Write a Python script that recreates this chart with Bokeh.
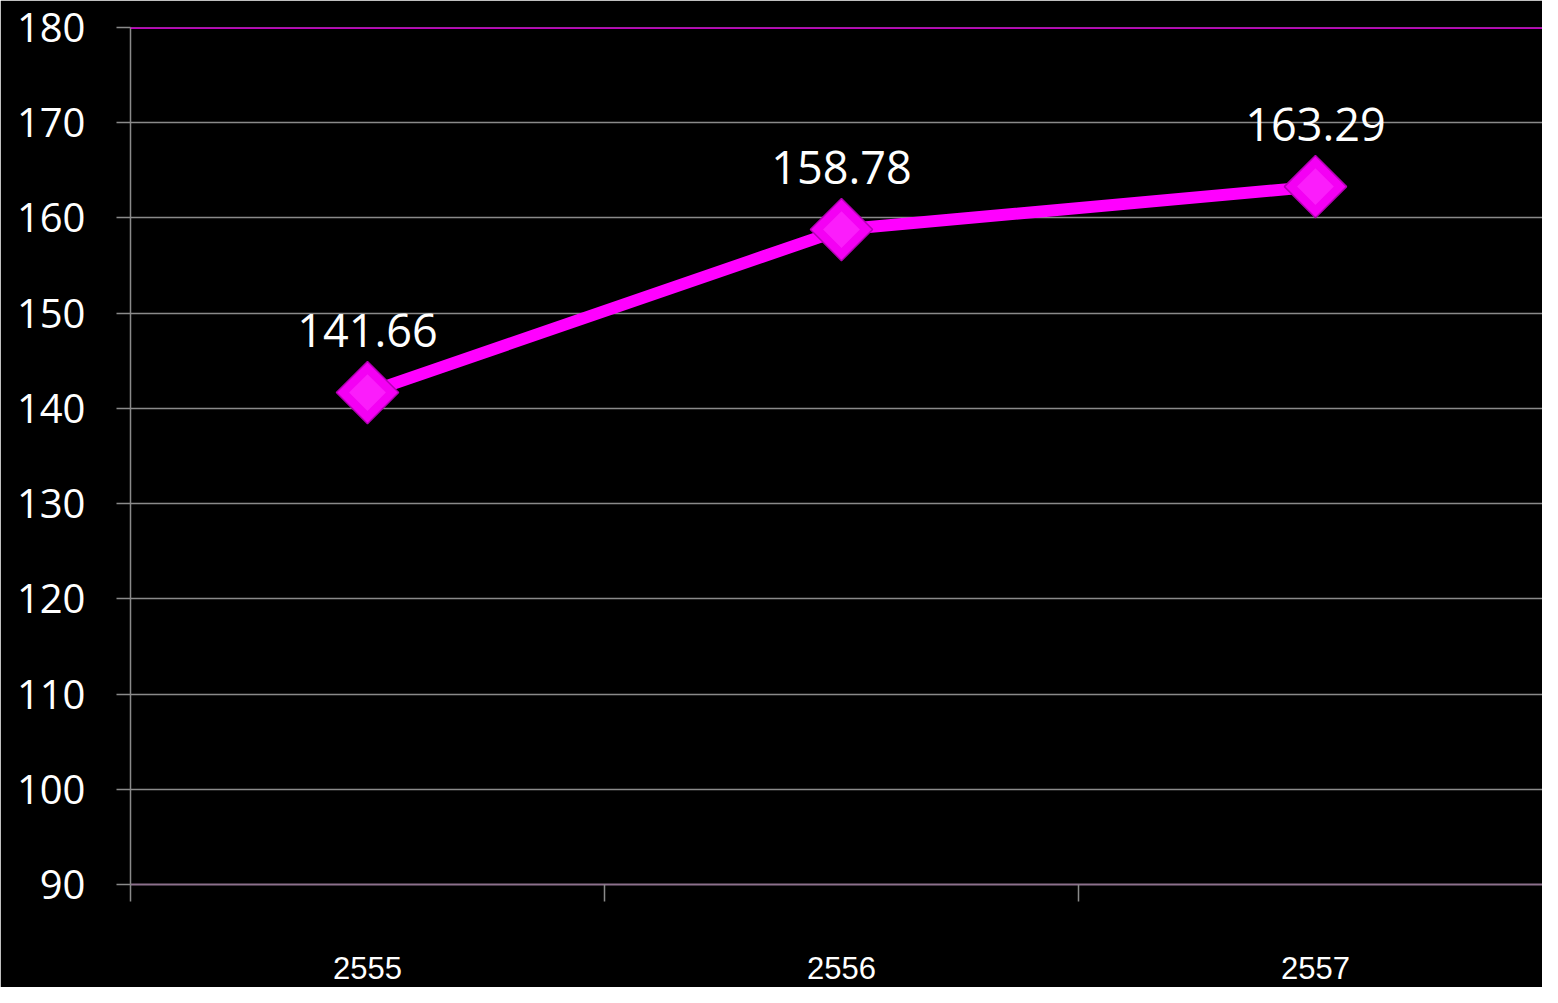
import math
from bokeh.plotting import figure
from bokeh.models import Range1d, FixedTicker, ColumnDataSource, Span
from bokeh.embed import file_html
from bokeh.resources import INLINE
from bokeh.core.properties import value

# ---- data ----
years = ["2555", "2556", "2557"]
values = [141.66, 158.78, 163.29]
value_labels = ["141.66", "158.78", "163.29"]
y_ticks = [90, 100, 110, 120, 130, 140, 150, 160, 170, 180]

# category centres on a numeric axis (category i spans [i, i+1])
xs = [i + 0.5 for i in range(len(years))]
src = ColumnDataSource(dict(x=xs, y=values, lab=value_labels))

p = figure(
    width=1542, height=987,
    output_backend="svg", toolbar_location=None,
    x_range=Range1d(0, 2.979), y_range=Range1d(90, 180),
    min_border_left=130, min_border_right=0,
    min_border_top=27, min_border_bottom=103,
)
p.background_fill_color = "black"
p.border_fill_color = "black"
p.outline_line_color = None

# grid (top edge is drawn in magenta below)
p.xgrid.visible = False
p.ygrid.ticker = FixedTicker(ticks=y_ticks[:-1])
p.ygrid.grid_line_color = "#8a8a8a"
p.ygrid.grid_line_width = 1.3

# y axis
p.yaxis.ticker = FixedTicker(ticks=y_ticks)
p.yaxis.axis_line_color = "#8a8a8a"
p.yaxis.axis_line_width = 1.5
p.yaxis.major_tick_line_color = "#8a8a8a"
p.yaxis.major_tick_line_width = 1.5
p.yaxis.major_tick_out = 14
p.yaxis.major_tick_in = 0
p.yaxis.minor_tick_line_color = None
p.yaxis.major_label_standoff = 31
p.yaxis.major_label_text_color = "white"
p.yaxis.major_label_text_font = "Open Sans"
p.yaxis.major_label_text_font_size = "40px"

# x axis: labels at centres, ticks at category boundaries (minor ticks)
p.xaxis.ticker = FixedTicker(ticks=xs, minor_ticks=[0, 1, 2, 3])
p.xaxis.major_label_overrides = {x: y for x, y in zip(xs, years)}
p.xaxis.axis_line_color = "#8c708c"
p.xaxis.axis_line_width = 2
p.xaxis.major_tick_line_color = None
p.xaxis.major_tick_out = 0
p.xaxis.major_tick_in = 0
p.xaxis.minor_tick_line_color = "#8a8a8a"
p.xaxis.minor_tick_line_width = 1.5
p.xaxis.minor_tick_out = 17
p.xaxis.minor_tick_in = 0
p.xaxis.major_label_standoff = 55
p.xaxis.major_label_text_color = "white"
p.xaxis.major_label_text_font = "Liberation Sans"
p.xaxis.major_label_text_font_size = "31px"

# magenta frame edges (top and left)
p.add_layout(Span(location=180, dimension="width", line_color="#ff00ff", line_width=2.5))
p.add_layout(Span(location=0, dimension="height", line_color="#cc00cc", line_width=1, level="underlay"))

# series
p.line("x", "y", source=src, line_color="#ff00ff", line_width=12)
p.scatter("x", "y", source=src, marker="square", size=44, angle=math.pi / 4,
          fill_color="#f400f4", line_color="#b400b4", line_width=1.5)
p.scatter("x", "y", source=src, marker="square", size=26, angle=math.pi / 4,
          fill_color="#ff30ff", fill_alpha=0.6, line_color=None)

p.text("x", "y", text="lab", source=src, y_offset=-62,
       text_align="center", text_baseline="alphabetic",
       text_color="white", text_font=value("Open Sans"), text_font_size="45px")

open("out.html", "w").write(file_html(p, INLINE))
